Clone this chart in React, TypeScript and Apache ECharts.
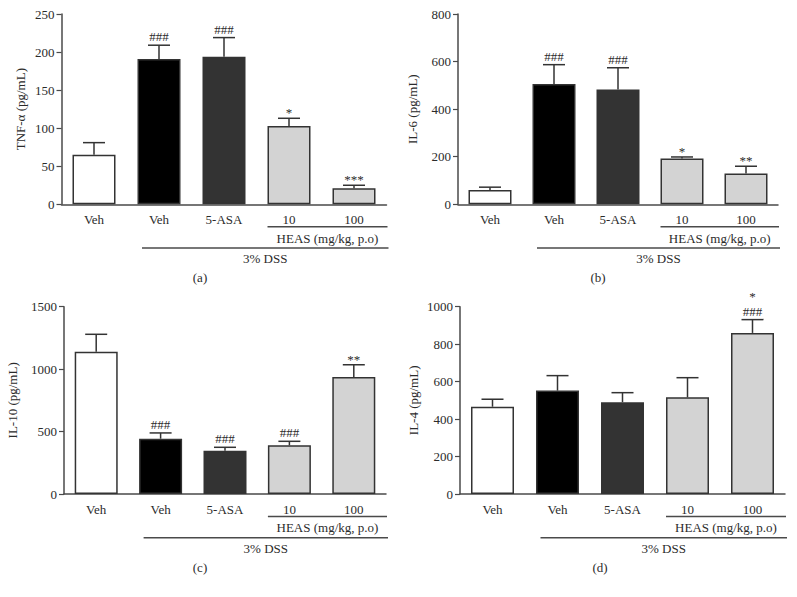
import React, { useEffect, useRef } from "react";
import * as echarts from "echarts";

const categories = ["Veh", "Veh", "5-ASA", "10", "100"];

const tnfMean = [65, 191, 194, 103, 21];
const tnfSem = [16, 18, 25, 10, 4];
const tnfMarks = ["", "###", "###", "*", "***"];

const il6Mean = [60, 506, 483, 193, 129];
const il6Sem = [12, 81, 91, 6, 31];
const il6Marks = ["", "###", "###", "*", "**"];

const il10Mean = [1140, 443, 347, 390, 937];
const il10Sem = [139, 46, 27, 32, 98];
const il10Marks = ["", "###", "###", "###", "**"];

const il4Mean = [466, 552, 490, 516, 860];
const il4Sem = [40, 80, 51, 105, 71];
const il4Marks = ["", "", "", "", "*\n###"];

const yTitles = ["TNF-α (pg/mL)", "IL-6 (pg/mL)", "IL-10 (pg/mL)", "IL-4 (pg/mL)"];
const yMax = [250, 800, 1500, 1000];
const yStep = [50, 200, 500, 200];
const panelTags = ["(a)", "(b)", "(c)", "(d)"];
const heasLabel = "HEAS (mg/kg, p.o)";
const dssLabel = "3% DSS";

const barFills = ["#ffffff", "#000000", "#333333", "#d3d3d3", "#d3d3d3"];

const FONT = "Liberation Serif";
const TXT = "#2b2b2b";
const AX = "#4a4a4a";

// layout (positions only)
const layouts = [
  { left: 61.5, width: 325, top: 14, height: 190.3, gap: 35, tagX: 200 },
  { left: 458, width: 320, top: 14, height: 190.3, gap: 39, tagX: 598 },
  { left: 64, width: 322, top: 306.7, height: 187.3, gap: 45, tagX: 200 },
  { left: 460, width: 325, top: 306.7, height: 187.3, gap: 40, tagX: 600 },
];

const means = [tnfMean, il6Mean, il10Mean, il4Mean];
const sems = [tnfSem, il6Sem, il10Sem, il4Sem];
const marks = [tnfMarks, il6Marks, il10Marks, il4Marks];

export default function App() {
  const ref = useRef<HTMLDivElement>(null);
  useEffect(() => {
    if (!ref.current) return;
    const chart = echarts.init(ref.current, null, { renderer: "svg" });

    const grid: any[] = [];
    const xAxis: any[] = [];
    const yAxis: any[] = [];
    const series: any[] = [];
    const graphic: any[] = [];

    layouts.forEach((L, k) => {
      grid.push({ left: L.left, top: L.top, width: L.width, height: L.height });
      xAxis.push({
        type: "category",
        gridIndex: k,
        data: categories,
        axisLine: { lineStyle: { color: AX, width: 1.5 } },
        axisTick: { alignWithLabel: true, length: 4, lineStyle: { color: AX, width: 1.2 } },
        axisLabel: { interval: 0, margin: 9, fontFamily: FONT, fontSize: 13, color: TXT },
      });
      yAxis.push({
        type: "value",
        gridIndex: k,
        min: 0,
        max: yMax[k],
        interval: yStep[k],
        name: yTitles[k],
        nameLocation: "middle",
        nameGap: L.gap,
        nameTextStyle: { fontFamily: FONT, fontSize: 13, color: TXT },
        splitLine: { show: false },
        axisLine: { show: true, lineStyle: { color: AX, width: 1.5 } },
        axisTick: { show: true, length: 5, lineStyle: { color: AX, width: 1.2 } },
        axisLabel: {
          margin: 7,
          fontFamily: FONT,
          fontSize: 13,
          color: TXT,
          formatter: (v: number) => String(v),
        },
      });
      series.push({
        type: "bar",
        xAxisIndex: k,
        yAxisIndex: k,
        barWidth: 43,
        data: means[k].map((v, i) => ({
          value: v,
          itemStyle: { color: barFills[i], borderColor: "#333333", borderWidth: 1.5 },
        })),
      });
      const mk = marks[k];
      series.push({
        type: "custom",
        xAxisIndex: k,
        yAxisIndex: k,
        z: 5,
        itemStyle: { color: TXT },
        encode: { x: 0, y: [1, 2] },
        data: means[k].map((v, i) => [i, v, v + sems[k][i]]),
        renderItem: (params: any, api: any) => {
          const idx = api.value(0);
          const p0 = api.coord([idx, api.value(1)]);
          const p1 = api.coord([idx, api.value(2)]);
          const st = { stroke: "#333333", lineWidth: 1.5 };
          const children: any[] = [
            { type: "line", shape: { x1: p0[0], y1: p0[1], x2: p1[0], y2: p1[1] }, style: st },
            { type: "line", shape: { x1: p1[0] - 11, y1: p1[1], x2: p1[0] + 11, y2: p1[1] }, style: st },
          ];
          const t = mk[params.dataIndex];
          if (t) {
            const lines = t.split("\n").reverse();
            let cy = p1[1] - (lines[0].charAt(0) === "#" ? 8.5 : 5.5);
            lines.forEach((ln: string, j: number) => {
              if (j > 0) cy -= 14.5;
              children.push({
                type: "text",
                style: {
                  text: ln,
                  x: p1[0],
                  y: cy,
                  align: "center",
                  verticalAlign: "middle",
                  fontFamily: FONT,
                  fontSize: 13,
                  fill: TXT,
                },
              });
            });
          }
          return { type: "group", children };
        },
      });

      // group brackets
      const band = L.width / categories.length;
      const c = (i: number) => L.left + band * (i + 0.5);
      const y0 = L.top + L.height;
      const axEnd = L.left + L.width;
      const hx1 = c(3) - 21.5;
      const hx2 = axEnd + 1;
      const dx1 = c(1) - 17;
      const dx2 = axEnd + 2;
      const lineStyle = { stroke: AX, lineWidth: 1.5 };
      const textEl = (text: string, x: number, y: number) => ({
        type: "text",
        style: {
          text,
          x,
          y,
          align: "center",
          verticalAlign: "middle",
          fontFamily: FONT,
          fontSize: 13,
          fill: TXT,
        },
      });
      graphic.push({ type: "line", shape: { x1: hx1, y1: y0 + 22.5, x2: hx2, y2: y0 + 22.5 }, style: lineStyle });
      graphic.push(textEl(heasLabel, (hx1 + hx2) / 2, y0 + 33.7));
      graphic.push({ type: "line", shape: { x1: dx1, y1: y0 + 43.7, x2: dx2, y2: y0 + 43.7 }, style: lineStyle });
      graphic.push(textEl(dssLabel, (dx1 + dx2) / 2, y0 + 54));
      graphic.push(textEl(panelTags[k], L.tagX, y0 + 73.5));
    });

    chart.setOption({
      animation: false,
      backgroundColor: "#ffffff",
      grid,
      xAxis,
      yAxis,
      series,
      graphic,
    });
    return () => chart.dispose();
  }, []);
  return <div ref={ref} style={{ width: 797, height: 597, position: "absolute", left: 0, top: 0 }} />;
}
